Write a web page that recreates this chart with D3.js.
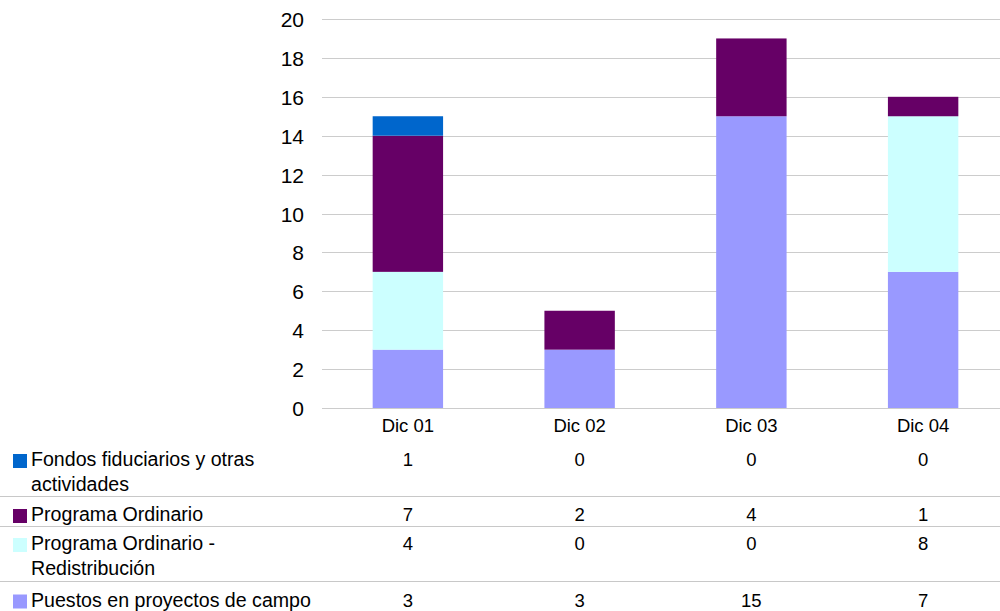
<!DOCTYPE html>
<html><head><meta charset="utf-8">
<script src="https://cdn.jsdelivr.net/npm/d3@7/dist/d3.min.js"></script>
<style>body{margin:0;background:#fff}svg{display:block;font-family:"Liberation Sans",Arial,sans-serif}</style>
</head><body><svg id="c" width="1000" height="611"></svg>
<script>
const categories = ["Dic 01","Dic 02","Dic 03","Dic 04"];
const seriesNames = ["Puestos en proyectos de campo","Programa Ordinario - Redistribución","Programa Ordinario","Fondos fiduciarios y otras actividades"];
const puestos = [3,3,15,7];
const redistribucion = [4,0,0,8];
const ordinario = [7,2,4,1];
const fondos = [1,0,0,0];
const colors = ["#9999FF","#CCFFFF","#660066","#0066CC"];
const yTicks = [0,2,4,6,8,10,12,14,16,18,20];
// table rows (top to bottom)
const tableRows = [
  {name:["Fondos fiduciarios y otras","actividades"], vals:fondos, color:colors[3]},
  {name:["Programa Ordinario"], vals:ordinario, color:colors[2]},
  {name:["Programa Ordinario -","Redistribución"], vals:redistribucion, color:colors[1]},
  {name:["Puestos en proyectos de campo"], vals:puestos, color:colors[0]}
];

const svg = d3.select("#c");
const x = d3.scaleBand().domain(categories).range([322,1009]).paddingInner(0.59).paddingOuter(0.295);
const y = d3.scaleLinear().domain([0,20]).range([408,19]);

// gridlines
svg.append("g").selectAll("line").data(yTicks).join("line")
  .attr("x1",322).attr("x2",1000).attr("y1",d=>Math.round(y(d))+0.5).attr("y2",d=>Math.round(y(d))+0.5)
  .attr("stroke","#cccccc").attr("stroke-width",1);

const data = categories.map((c,i)=>({cat:c, s0:puestos[i], s1:redistribucion[i], s2:ordinario[i], s3:fondos[i]}));
const stack = d3.stack().keys(["s0","s1","s2","s3"])(data);
svg.append("g").selectAll("g").data(stack).join("g").attr("fill",(d,i)=>colors[i])
  .selectAll("rect").data(d=>d).join("rect")
  .attr("x",d=>x(d.data.cat)).attr("width",x.bandwidth())
  .attr("y",d=>y(d[1])).attr("height",d=>y(d[0])-y(d[1]));

// y axis labels
svg.append("g").selectAll("text").data(yTicks).join("text")
  .attr("x",304).attr("y",d=>y(d)+8).attr("text-anchor","end")
  .attr("font-size",21).attr("fill","#000").text(d=>d);

// x labels
svg.append("g").selectAll("text").data(categories).join("text")
  .attr("x",d=>x(d)+x.bandwidth()/2).attr("y",431.5).attr("text-anchor","middle")
  .attr("font-size",18.5).attr("fill","#000").text(d=>d);

// table
const baselines = [466,521,550,606.5];
const sep = [496.5,526.5,581.5];
svg.append("g").selectAll("line").data(sep).join("line")
  .attr("x1",0).attr("x2",1000).attr("y1",d=>d).attr("y2",d=>d)
  .attr("stroke","#c8c8c8").attr("stroke-width",1);

tableRows.forEach((r,ri)=>{
  const b = baselines[ri];
  svg.append("rect").attr("x",13).attr("y",b-12).attr("width",14).attr("height",14).attr("fill",r.color);
  r.name.forEach((t,li)=>{
    svg.append("text").attr("x",31).attr("y",b+li*24.7).attr("font-size",19.6).attr("fill","#000").text(t);
  });
  svg.append("g").selectAll("text").data(r.vals).join("text")
    .attr("x",(d,i)=>x(categories[i])+x.bandwidth()/2).attr("y",b)
    .attr("text-anchor","middle").attr("font-size",18.5).attr("fill","#000").text(d=>d);
});
</script></body></html>
